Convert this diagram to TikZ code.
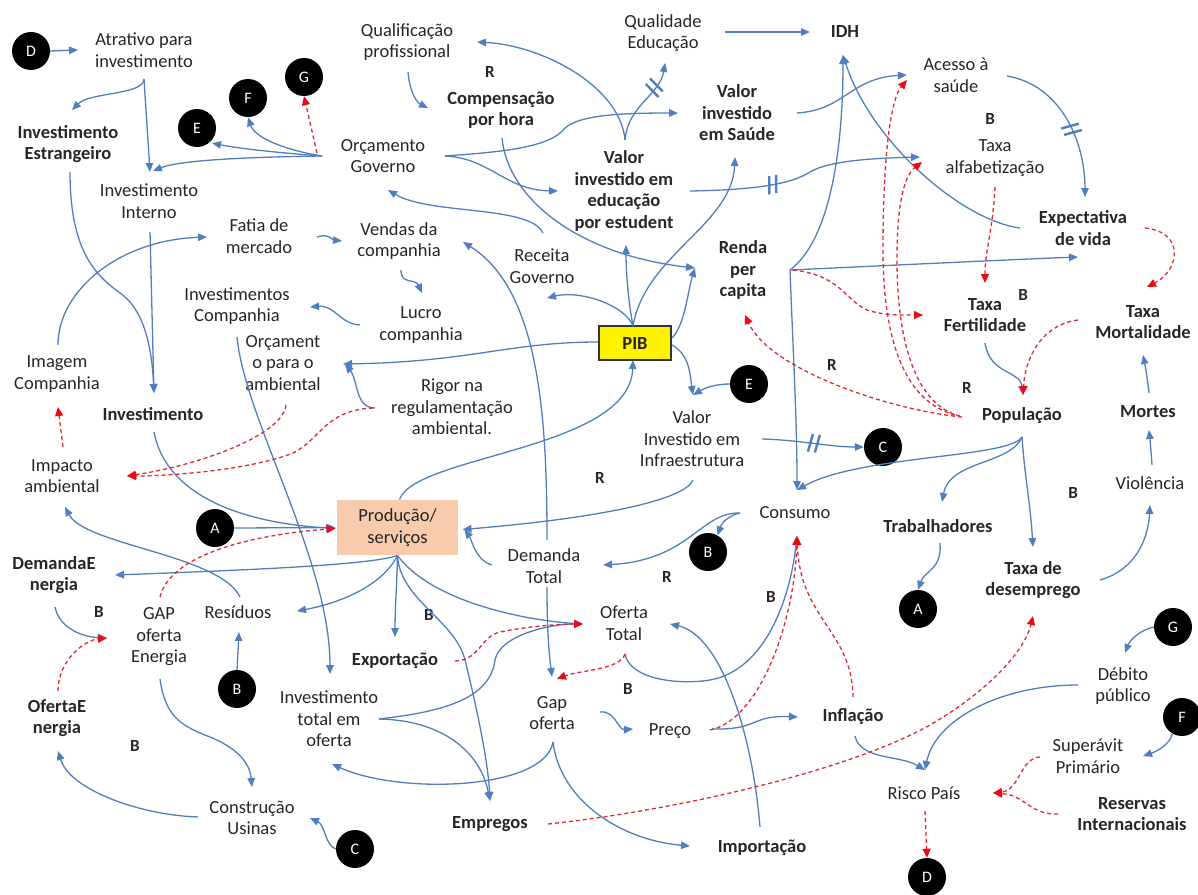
\documentclass[tikz,border=0pt]{standalone}
\usepackage{fontspec}
\setmainfont{Carlito}
\usetikzlibrary{arrows.meta,calc,decorations.markings}
\definecolor{linkblue}{RGB}{80,126,190}
\definecolor{linkred}{RGB}{225,40,50}
\definecolor{tipred}{RGB}{235,10,20}
\definecolor{prodfill}{RGB}{248,203,173}
\begin{document}
\begin{tikzpicture}[x=1pt,y=-1pt,
  every node/.style={font=\fontsize{18.5}{21.5}\selectfont, align=center, inner sep=1pt, text=black!85},
  bold/.style={font=\fontsize{18.5}{21.5}\selectfont\bfseries},
  looplabel/.style={font=\fontsize{17}{20}\selectfont\bfseries},
  marker/.style={circle, fill=black, minimum size=38pt, inner sep=0pt, text=white, font=\fontsize{16}{18}\selectfont},
  bluelink/.style={draw=linkblue, line width=1.3pt, -{Triangle[length=9pt,width=7.5pt]}},
  redlink/.style={draw=linkred, line width=1.3pt, dash pattern=on 4pt off 3pt, -{Triangle[length=9pt,width=8pt,color=tipred]}},
  hashmark/.style={postaction={decorate, decoration={markings, mark=at position #1 with {\draw[linkblue, line width=2.4pt, solid, -] (-4pt,-9pt)--(-1pt,9pt) (3pt,-9pt)--(6pt,9pt);}}}}
]
\useasboundingbox (0,0) rectangle (1198,894);

% ---- letter markers
\node[marker] (mD1) at (31,51) {D};
\node[marker] (mG1) at (304,77) {G};
\node[marker] (mF1) at (248,98) {F};
\node[marker] (mE1) at (197,128) {E};
\node[marker] (mE2) at (749,384) {E};
\node[marker] (mC1) at (883,447) {C};
\node[marker] (mA1) at (215,528) {A};
\node[marker] (mB1) at (708,552) {B};
\node[marker] (mA2) at (918,609) {A};
\node[marker] (mB2) at (237,689) {B};
\node[marker] (mC2) at (355,849) {C};
\node[marker] (mG2) at (1173,627) {G};
\node[marker] (mF2) at (1182,717) {F};
\node[marker] (mD2) at (927,877) {D};

% ---- variables
\node (atr) at (144,50) {Atrativo para\\investimento};
\node[bold] (iest) at (68,144) {Investimento\\Estrangeiro};
\node (iint) at (149,201) {Investimento\\Interno};
\node (qual) at (407,42) {Qualificação\\profissional};
\node[bold] (comp) at (501,110) {Compensação\\por hora};
\node (qed) at (663,33) {Qualidade\\Educação};
\node[bold] (idh) at (845,32) {IDH};
\node[bold] (vsau) at (737,113) {Valor\\investido\\em Saúde};
\node (orcg) at (383,156) {Orçamento\\Governo};
\node[bold] (vedu) at (624,191) {Valor\\investido em\\educação\\por estudent};
\node (aces) at (956,75) {Acesso à\\saúde};
\node (talf) at (995,158) {Taxa\\alfabetização};
\node[bold] (expv) at (1083,228) {Expectativa\\de vida};
\node (fati) at (259,236) {Fatia de\\mercado};
\node (vend) at (399,241) {Vendas da\\companhia};
\node (rgov) at (542,266) {Receita\\Governo};
\node[bold] (renda) at (743,270) {Renda\\per\\capita};
\node (icomp) at (237,306) {Investimentos\\Companhia};
\node (lucro) at (421,325) {Lucro\\companhia};
\node[bold, draw=black!80, line width=1.2pt, fill=yellow, minimum width=72pt, minimum height=34pt] (pib) at (635,343) {PIB};
\node (oamb) at (283,363) {Orçament\\o para o\\ambiental};
\node (imag) at (57,374) {Imagem\\Companhia};
\node[bold] (inv) at (153,414) {Investimento};
\node (rigor) at (452,407) {Rigor na\\regulamentação\\ambiental.};
\node[bold] (tfer) at (985,315) {Taxa\\Fertilidade};
\node[bold] (tmor) at (1143,322) {Taxa\\Mortalidade};
\node[bold] (pop) at (1022,416) {População};
\node[bold] (mort) at (1148,412) {Mortes};
\node (vinf) at (692,439) {Valor\\Investido em\\Infraestrutura};
\node (imp) at (62,476) {Impacto\\ambiental};
\node (viol) at (1150,483) {Violência};
\node (cons) at (795,513) {Consumo};
\node[fill=prodfill, minimum width=121pt, minimum height=55pt] (prod) at (397.5,527.5) {Produção/\\serviços};
\node[bold] (trab) at (938,526) {Trabalhadores};
\node (dtot) at (544,566) {Demanda\\Total};
\node[bold] (dene) at (54,575) {DemandaE\\nergia};
\node[bold] (tdes) at (1033,580) {Taxa de\\desemprego};
\node (gape) at (159,637) {GAP\\oferta\\Energia};
\node (resi) at (238,612) {Resíduos};
\node (ofer) at (624,623) {Oferta\\Total};
\node[bold] (expo) at (395,661) {Exportação};
\node (debi) at (1123,686) {Débito\\público};
\node[bold] (ofen) at (57,718) {OfertaE\\nergia};
\node (itot) at (329,719) {Investimento\\total em\\oferta};
\node (gap) at (552,713) {Gap\\oferta};
\node (prec) at (670,731) {Preço};
\node[bold] (infl) at (853,717) {Inflação};
\node (supe) at (1088,756) {Superávit\\Primário};
\node (usin) at (252,818) {Construção\\Usinas};
\node (risc) at (924,793) {Risco País};
\node[bold] (rese) at (1132,814) {Reservas\\Internacionais};
\node[bold] (empr) at (490,824) {Empregos};
\node[bold] (impo) at (762,848) {Importação};

% ---- loop polarity labels
\node[looplabel] (r1) at (490,72) {R};
\node[looplabel] (b1) at (990,119) {B};
\node[looplabel] (b2) at (1023,295) {B};
\node[looplabel] (r2) at (832,365) {R};
\node[looplabel] (r3) at (967,388) {R};
\node[looplabel] (r4) at (600,478) {R};
\node[looplabel] (b3) at (1073,493) {B};
\node[looplabel] (r5) at (667,577) {R};
\node[looplabel] (b4) at (99,612) {B};
\node[looplabel] (b5) at (429,615) {B};
\node[looplabel] (b6) at (771,597) {B};
\node[looplabel] (b7) at (628,689) {B};
\node[looplabel] (b8) at (135,746) {B};

% ---- solid (blue) links
\draw[bluelink] (mD1.east) -- ($(atr)+(-66,0)$);
\draw[bluelink] ($(atr)+(0,29)$) .. controls (144,95) and (90,92) .. ($(iest)+(4,-34)$);
\draw[bluelink] ($(atr)+(0,29)$) -- ($(iint)+(1,-29)$);
\draw[bluelink] ($(orcg)+(-61,0)$) .. controls (250,157) and (180,160) .. ($(iint)+(4,-30)$);
\draw[bluelink] ($(orcg)+(-61,0)$) .. controls (280,153) and (235,148) .. ($(mE1)+(15,15)$);
\draw[bluelink] ($(orcg)+(-61,0)$) .. controls (285,150) and (255,138) .. (mF1.south);
\draw[bluelink] ($(iest)+(2,28)$) .. controls (70,250) and (95,275) .. (120,293) .. controls (145,310) and (152,350) .. ($(inv)+(1,-21)$);
\draw[bluelink] ($(iint)+(1,31)$) -- ($(inv)+(1,-21)$);
\draw[bluelink] ($(imag)+(1,-29)$) .. controls (58,290) and (120,240) .. ($(fati)+(-52,1)$);
\draw[bluelink] ($(fati)+(58,1)$) .. controls (328,233) and (333,240) .. ($(vend)+(-57,0)$);
\draw[bluelink] ($(vend)+(2,29)$) .. controls (401,285) and (415,278) .. ($(lucro)+(1,-32)$);
\draw[bluelink] ($(lucro)+(-61,0)$) .. controls (340,324) and (335,305) .. ($(icomp)+(73,1)$);
\draw[bluelink] ($(rgov)+(1,-33)$) .. controls (530,205) and (430,215) .. ($(orcg)+(5,34)$);
\draw[bluelink] ($(dtot)+(3,-26)$) .. controls (547,420) and (540,290) .. ($(vend)+(64,1)$);
\draw[bluelink] ($(pib)+(-2,-17)$) .. controls (625,305) and (580,290) .. ($(rgov)+(5,32)$);
\draw[bluelink] ($(pib)+(-2,-17)$) .. controls (628,300) and (626,270) .. ($(vedu)+(2,54)$);
\draw[bluelink] ($(pib)+(-2,-17)$) .. controls (645,255) and (732,225) .. ($(vsau)+(-2,44)$);
\draw[bluelink] ($(pib)+(37,-5)$) .. controls (685,325) and (688,290) .. ($(renda)+(-48,-2)$);
\draw[bluelink] ($(pib)+(-37,-1)$) .. controls (510,342) and (470,362) .. ($(oamb)+(60,1)$);
\draw[bluelink] ($(pib)+(37,2)$) .. controls (690,355) and (690,375) .. ($(vinf)+(1,-44)$);
\draw[bluelink] (mE2.west) .. controls (715,384) and (705,388) .. ($(vinf)+(1,-44)$);
\draw[bluelink] ($(rigor)+(-77,1)$) .. controls (355,408) and (358,380) .. ($(oamb)+(62,1)$);
\draw[bluelink] ($(prod)+(2,-28)$) .. controls (415,455) and (630,450) .. ($(pib)+(-2,17)$);
\draw[bluelink] ($(inv)+(1,18)$) .. controls (165,490) and (230,522) .. ($(prod)+(-62,1)$);
\draw[bluelink] (mA1.east) -- ($(prod)+(-62,0)$);
\draw[bluelink] ($(vinf)+(1,41)$) .. controls (685,500) and (600,518) .. ($(prod)+(65,2)$);
\draw[bluelink] ($(dtot)+(-52,-1)$) .. controls (475,560) and (472,540) .. ($(prod)+(67,2)$);
\draw[bluelink] ($(cons)+(-55,0)$) .. controls (700,512) and (690,560) .. ($(dtot)+(59,-1)$);
\draw[bluelink] ($(cons)+(-55,0)$) .. controls (730,515) and (722,522) .. (mB1.60);
\draw[bluelink] ($(prod)+(0,28)$) .. controls (370,565) and (250,570) .. ($(dene)+(61,0)$);
\draw[bluelink] ($(prod)+(0,28)$) .. controls (380,590) and (330,605) .. ($(resi)+(59,-1)$);
\draw[bluelink] ($(prod)+(0,28)$) .. controls (397,580) and (395,610) .. ($(expo)+(0,-24)$);
\draw[bluelink] ($(prod)+(0,28)$) .. controls (430,600) and (520,620) .. ($(ofer)+(-41,1)$);
\draw[bluelink] ($(prod)+(0,28)$) .. controls (400,600) and (455,620) .. (465,660) .. controls (475,700) and (488,760) .. ($(empr)+(0,-23)$);
\draw[bluelink] ($(icomp)+(0,31)$) .. controls (245,420) and (330,560) .. ($(itot)+(1,-45)$);
\draw[bluelink] ($(itot)+(50,0)$) .. controls (440,712) and (490,700) .. (495,660) .. controls (500,635) and (550,624) .. ($(ofer)+(-41,1)$);
\draw[bluelink] ($(itot)+(50,0)$) .. controls (440,720) and (480,750) .. ($(empr)+(0,-23)$);
\draw[bluelink] ($(gap)+(1,29)$) .. controls (545,790) and (400,795) .. ($(itot)+(3,45)$);
\draw[bluelink] ($(gap)+(1,29)$) .. controls (560,800) and (620,840) .. ($(impo)+(-72,-2)$);
\draw[bluelink] ($(gap)+(48,-1)$) .. controls (615,710) and (618,730) .. ($(prec)+(-37,-2)$);
\draw[bluelink] ($(dtot)+(3,21)$) .. controls (547,640) and (550,660) .. ($(gap)+(0,-36)$);
\draw[bluelink] ($(ofer)+(1,31)$) .. controls (630,680) and (680,685) .. (710,680) .. controls (765,670) and (790,600) .. ($(cons)+(2,23)$);
\draw[bluelink] ($(prec)+(42,-2)$) .. controls (760,730) and (750,715) .. ($(infl)+(-55,0)$);
\draw[bluelink] ($(impo)+(-2,-21)$) .. controls (752,730) and (720,635) .. ($(ofer)+(46,1)$);
\draw[bluelink] ($(infl)+(2,19)$) .. controls (860,760) and (900,755) .. ($(risc)+(1,-23)$);
\draw[bluelink] ($(debi)+(-45,-1)$) .. controls (1000,685) and (935,720) .. ($(risc)+(1,-23)$);
\draw[bluelink] (mG2.west) .. controls (1140,630) and (1130,640) .. ($(debi)+(2,-33)$);
\draw[bluelink] (mF2.240) .. controls (1170,745) and (1155,752) .. ($(supe)+(55,0)$);
\draw[bluelink] ($(dene)+(1,32)$) .. controls (60,630) and (85,637) .. ($(gape)+(-52,1)$);
\draw[bluelink] ($(resi)+(2,-15)$) .. controls (220,555) and (85,545) .. ($(imp)+(3,31)$);
\draw[bluelink] (mB2.north) -- ($(resi)+(1,20)$);
\draw[bluelink] ($(gape)+(1,42)$) .. controls (165,715) and (180,725) .. (205,735) .. controls (240,748) and (250,765) .. ($(usin)+(0,-31)$);
\draw[bluelink] ($(usin)+(-54,-1)$) .. controls (140,815) and (70,790) .. ($(ofen)+(1,33)$);
\draw[bluelink] (mC2.west) .. controls (325,845) and (325,825) .. ($(usin)+(58,0)$);
\draw[bluelink, hashmark=0.5] ($(vinf)+(70,0)$) .. controls (800,440) and (830,447) .. (mC1.west);
\draw[bluelink] ($(vedu)+(1,-51)$) .. controls (620,85) and (540,45) .. ($(qual)+(70,0)$);
\draw[bluelink, hashmark=0.68] ($(vedu)+(1,-51)$) .. controls (628,105) and (660,95) .. ($(qed)+(2,30)$);
\draw[bluelink] ($(orcg)+(62,0)$) .. controls (500,152) and (550,148) .. (565,128) .. controls (580,115) and (620,113) .. ($(vsau)+(-59,0)$);
\draw[bluelink] ($(orcg)+(62,0)$) .. controls (490,158) and (505,190) .. ($(vedu)+(-66,0)$);
\draw[bluelink] ($(qed)+(62,-1)$) -- ($(idh)+(-35,0)$);
\draw[bluelink] ($(qual)+(1,30)$) .. controls (410,95) and (418,103) .. ($(comp)+(-73,-2)$);
\draw[bluelink] ($(comp)+(1,28)$) .. controls (508,200) and (580,255) .. ($(renda)+(-48,-2)$);
\draw[bluelink] ($(vsau)+(60,0)$) .. controls (845,110) and (850,78) .. ($(aces)+(-49,0)$);
\draw[bluelink, hashmark=0.35] ($(vedu)+(66,0)$) .. controls (750,190) and (790,185) .. (810,172) .. controls (830,160) and (880,158) .. ($(talf)+(-75,-1)$);
\draw[bluelink] ($(renda)+(47,0)$) .. controls (830,240) and (843,150) .. ($(idh)+(-2,23)$);
\draw[bluelink] ($(expv)+(-63,0)$) .. controls (960,220) and (870,140) .. ($(idh)+(-2,23)$);
\draw[bluelink] ($(renda)+(47,0)$) .. controls (900,265) and (1000,260) .. ($(expv)+(-5,29)$);
\draw[bluelink] ($(renda)+(47,0)$) .. controls (793,350) and (797,420) .. ($(cons)+(2,-23)$);
\draw[bluelink, hashmark=0.55] ($(aces)+(51,1)$) .. controls (1060,85) and (1085,140) .. ($(expv)+(2,-31)$);
\draw[bluelink] ($(tfer)+(0,28)$) .. controls (990,375) and (1020,370) .. ($(pop)+(1,-21)$);
\draw[bluelink] ($(pop)+(0,21)$) .. controls (1010,458) and (860,455) .. ($(cons)+(2,-23)$);
\draw[bluelink] ($(pop)+(0,21)$) .. controls (1010,465) and (950,460) .. ($(trab)+(4,-24)$);
\draw[bluelink] ($(pop)+(0,21)$) .. controls (1025,480) and (1030,500) .. ($(tdes)+(0,-33)$);
\draw[bluelink] ($(trab)+(2,17)$) .. controls (942,570) and (925,570) .. (mA2.north);
\draw[bluelink] ($(tdes)+(67,0)$) .. controls (1135,570) and (1148,540) .. ($(viol)+(0,22)$);
\draw[bluelink] ($(viol)+(2,-18)$) .. controls (1151,450) and (1150,440) .. ($(mort)+(1,18)$);
\draw[bluelink] ($(mort)+(1,-19)$) .. controls (1147,375) and (1145,365) .. ($(tmor)+(0,33)$);

% ---- dashed (red) links
\draw[redlink] ($(orcg)+(-66,-3)$) -- (mG1.south);
\draw[redlink] ($(imp)+(1,-29)$) -- ($(imag)+(1,33)$);
\draw[redlink] ($(rigor)+(-79,1)$) .. controls (325,410) and (320,440) .. (293,453) .. controls (250,470) and (170,476) .. ($(imp)+(65,0)$);
\draw[redlink] ($(oamb)+(3,42)$) .. controls (283,435) and (200,465) .. ($(imp)+(65,0)$);
\draw[redlink] ($(gape)+(1,-40)$) .. controls (170,555) and (250,535) .. ($(prod)+(-62,1)$);
\draw[redlink] ($(ofen)+(1,-27)$) .. controls (58,660) and (85,640) .. ($(gape)+(-52,1)$);
\draw[redlink] ($(expo)+(60,0)$) .. controls (480,660) and (480,637) .. (500,632) .. controls (530,626) and (560,624) .. ($(ofer)+(-41,1)$);
\draw[redlink] ($(ofer)+(1,31)$) .. controls (620,670) and (580,670) .. ($(gap)+(5,-34)$);
\draw[redlink] ($(infl)+(0,-20)$) .. controls (852,630) and (800,620) .. ($(cons)+(2,23)$);
\draw[redlink] ($(prec)+(40,-1)$) .. controls (760,720) and (795,620) .. ($(cons)+(2,23)$);
\draw[redlink] ($(empr)+(58,0)$) .. controls (680,810) and (850,770) .. (930,725) .. controls (990,690) and (1025,650) .. ($(tdes)+(0,36)$);
\draw[redlink] ($(supe)+(-48,1)$) .. controls (1020,758) and (1020,790) .. ($(risc)+(69,0)$);
\draw[redlink] ($(rese)+(-74,0)$) .. controls (1030,815) and (1025,795) .. ($(risc)+(69,0)$);
\draw[redlink] ($(risc)+(1,18)$) -- (mD2.north);
\draw[redlink] ($(renda)+(50,0)$) .. controls (840,275) and (845,300) .. (867,310) .. controls (885,316) and (905,315) .. ($(tfer)+(-62,0)$);
\draw[redlink] ($(expv)+(62,0)$) .. controls (1185,232) and (1180,270) .. ($(tmor)+(4,-35)$);
\draw[redlink] ($(talf)+(0,29)$) .. controls (993,230) and (985,250) .. ($(tfer)+(0,-32)$);
\draw[redlink] ($(pop)+(-67,-1)$) .. controls (900,400) and (883,330) .. (883,250) .. controls (883,160) and (890,100) .. ($(aces)+(-49,5)$);
\draw[redlink] ($(pop)+(-62,0)$) .. controls (915,405) and (897,340) .. (897,260) .. controls (897,200) and (905,175) .. ($(talf)+(-73,4)$);
\draw[redlink] ($(pop)+(-60,1)$) .. controls (890,410) and (770,370) .. ($(renda)+(2,45)$);
\draw[redlink] ($(tmor)+(-65,-2)$) .. controls (1040,325) and (1025,360) .. ($(pop)+(1,-21)$);
\end{tikzpicture}
\end{document}
